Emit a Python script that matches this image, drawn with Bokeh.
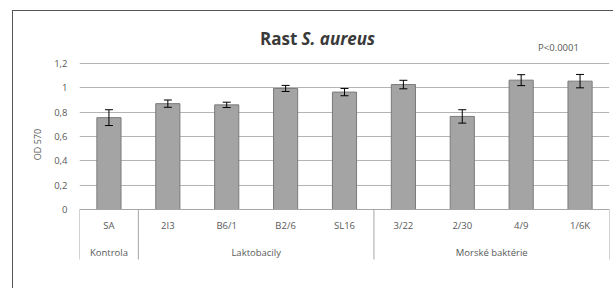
from bokeh.plotting import figure
from bokeh.models import (ColumnDataSource, FactorRange, Range1d, FixedTicker,
                          CustomJSTickFormatter, Whisker, TeeHead)
from bokeh.core.properties import value
from bokeh.embed import file_html
from bokeh.resources import INLINE

# ---- data ----
categories = ["SA", "2I3", "B6/1", "B2/6", "SL16", "3/22", "2/30", "4/9", "1/6K"]
od570 = [0.755, 0.87, 0.86, 0.995, 0.965, 1.027, 0.765, 1.063, 1.055]
err = [0.065, 0.03, 0.022, 0.025, 0.03, 0.035, 0.055, 0.045, 0.055]
groups = ["Kontrola", "Laktobacily", "Morské baktérie"]
group_members = [["SA"], ["2I3", "B6/1", "B2/6", "SL16"], ["3/22", "2/30", "4/9", "1/6K"]]
y_ticks = [0, 0.2, 0.4, 0.6, 0.8, 1.0, 1.2]
title_plain = "Rast"
title_italic = "S. aureus"
p_text = "P<0.0001"
y_label = "OD 570"

FONT = "Open Sans"
TXT = "#595959"

src = ColumnDataSource(dict(
    x=categories, top=od570,
    upper=[v + e for v, e in zip(od570, err)],
    lower=[v - e for v, e in zip(od570, err)],
))

p = figure(width=613, height=288, output_backend="svg", toolbar_location=None,
           x_range=FactorRange(*categories, range_padding=0),
           y_range=Range1d(-0.6493, 1.7178),
           min_border_left=79, min_border_right=4, min_border_top=0, min_border_bottom=0)
p.outline_line_color = None
p.xaxis.visible = False
p.xgrid.visible = False
p.border_fill_color = None
p.background_fill_color = None

yax = p.yaxis[0]
yax.ticker = FixedTicker(ticks=y_ticks)
yax.formatter = CustomJSTickFormatter(code="return tick.toFixed(1).replace('.', ',').replace(',0', '');")
yax.axis_line_color = None
yax.major_tick_line_color = None
yax.minor_tick_line_color = None
yax.major_tick_out = 0
yax.major_tick_in = 0
yax.minor_tick_out = 0
yax.major_label_standoff = 12
yax.major_label_text_font = FONT
yax.major_label_text_font_size = "9.5px"
yax.major_label_text_color = TXT
yax.axis_label = y_label
yax.axis_label_text_font = FONT
yax.axis_label_text_font_size = "9px"
yax.axis_label_text_font_style = "normal"
yax.axis_label_text_color = TXT
yax.axis_label_standoff = 7

p.ygrid.ticker = FixedTicker(ticks=y_ticks[1:])
p.ygrid.grid_line_color = "#b4b4b4"

p.vbar(x="x", top="top", width=0.41, source=src,
       fill_color="#a4a4a4", line_color="#7a7a7a", line_width=1)

wh = Whisker(base="x", upper="upper", lower="lower", source=src, level="overlay",
             line_color="black", line_width=1,
             upper_head=TeeHead(size=8, line_color="black"),
             lower_head=TeeHead(size=8, line_color="black"))
p.add_layout(wh)

# category axis (two levels)
first, last = categories[0], categories[-1]
p.segment(x0=[(first, -0.5)], y0=[0], x1=[(last, 0.5)], y1=[0],
          line_color="#a6a6a6", line_width=1)
sep_x = [(first, -0.5)] + [(m[-1], 0.5) for m in group_members]
p.segment(x0=sep_x, y0=[0] * len(sep_x), x1=sep_x, y1=[-0.411] * len(sep_x),
          line_color="#a6a6a6", line_width=1)
p.text(x=categories, y=[-0.131] * len(categories), text=categories,
       text_font=value(FONT), text_font_size="9.5px", text_color=TXT,
       text_align="center", text_baseline="middle")
gx = []
for m in group_members:
    n = len(m)
    gx.append((m[n // 2], 0.0) if n % 2 else (m[n // 2 - 1], 0.5))
p.text(x=gx, y=[-0.353] * len(groups), text=groups,
       text_font=value(FONT), text_font_size="9.5px", text_color=TXT,
       text_align="center", text_baseline="middle")

# title
p.text(x=[("B2/6", 0.2)], y=[1.405], text=[title_plain],
       text_font=value(FONT), text_font_size="17px", text_font_style="bold",
       text_color="#3a3a3a", text_align="right", text_baseline="alphabetic")
p.text(x=[("B2/6", 0.27)], y=[1.405], text=[title_italic],
       text_font=value(FONT), text_font_size="17px", text_font_style="bold italic",
       text_color="#3a3a3a", text_align="left", text_baseline="alphabetic")
p.text(x=[("1/6K", -0.02)], y=[1.33], text=[p_text],
       text_font=value(FONT), text_font_size="9.5px", text_color=TXT,
       text_align="right", text_baseline="alphabetic")

# outer chart-area border (only its left and top edges fall inside the picture),
# painted as the plot element's background behind the transparent canvas
p.styles = {
    "background": ("linear-gradient(#555555, #555555) 12px 10px / 601px 1px no-repeat, "
                   "linear-gradient(#555555, #555555) 12px 10px / 1px 278px no-repeat, "
                   "#ffffff"),
}

open("out.html", "w").write(file_html(p, INLINE))
